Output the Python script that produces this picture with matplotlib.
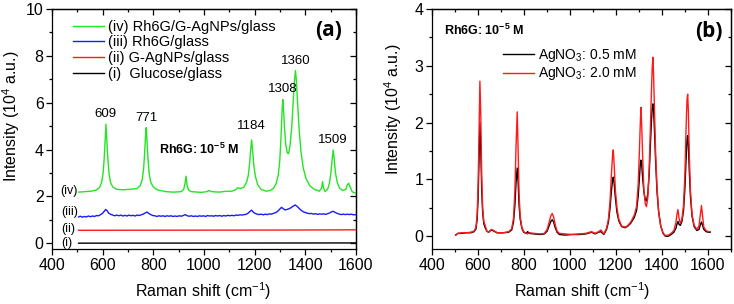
import numpy as np
import matplotlib
matplotlib.use("Agg")
import matplotlib.pyplot as plt
from matplotlib.ticker import MultipleLocator

plt.rcParams["font.family"] = ["Liberation Sans", "DejaVu Sans"]
plt.rcParams["mathtext.fontset"] = "custom"
plt.rcParams["mathtext.rm"] = "Liberation Sans"
plt.rcParams["mathtext.bf"] = "Liberation Sans:bold"

# ---- panel (a): spectra (Raman shift, intensity in 1e4 a.u.)
spec_iv = [(505, 2.18), (530, 2.2), (555, 2.22), (575, 2.27), (588, 2.38), (596, 2.6),
           (602, 3.0), (606, 3.6), (610, 4.4), (613, 5.08), (616, 4.5), (620, 3.7),
           (625, 3.0), (631, 2.6), (640, 2.4), (655, 2.3), (680, 2.28), (710, 2.3),
           (735, 2.33), (748, 2.45), (756, 2.7), (762, 3.2), (766, 3.9), (769, 4.5),
           (772, 4.93), (775, 4.4), (779, 3.6), (784, 2.95), (790, 2.6), (800, 2.4),
           (815, 2.28), (850, 2.2), (880, 2.18), (910, 2.2), (920, 2.3), (925, 2.55),
           (929, 2.86), (933, 2.5), (939, 2.27), (950, 2.2), (990, 2.17), (1010, 2.2),
           (1020, 2.25), (1030, 2.2), (1060, 2.18), (1090, 2.22), (1110, 2.22),
           (1125, 2.28), (1133, 2.37), (1145, 2.33), (1158, 2.4), (1168, 2.6),
           (1175, 2.9), (1180, 3.4), (1184, 3.95), (1188, 4.41), (1192, 3.95),
           (1197, 3.3), (1203, 2.85), (1212, 2.5), (1225, 2.3), (1245, 2.22),
           (1262, 2.25), (1275, 2.35), (1285, 2.55), (1293, 2.9), (1299, 3.5),
           (1304, 4.5), (1308, 5.6), (1311, 6.14), (1314, 5.7), (1318, 4.9),
           (1323, 4.2), (1329, 3.85), (1334, 3.82), (1340, 4.2), (1346, 4.9),
           (1351, 5.8), (1356, 6.8), (1361, 7.37), (1365, 6.9), (1370, 5.9),
           (1376, 4.8), (1383, 3.9), (1392, 3.2), (1403, 2.75), (1418, 2.45),
           (1435, 2.3), (1455, 2.22), (1464, 2.35), (1468, 2.63), (1472, 2.35),
           (1478, 2.2), (1488, 2.3), (1495, 2.55), (1501, 3.0), (1506, 3.6),
           (1510, 3.98), (1514, 3.6), (1519, 3.0), (1526, 2.6), (1535, 2.35),
           (1548, 2.25), (1560, 2.3), (1566, 2.5), (1571, 2.56), (1577, 2.4),
           (1585, 2.2), (1593, 2.15), (1600, 2.15)]

spec_iii = [(505, 1.12), (512, 1.15), (520, 1.11), (528, 1.14), (536, 1.12), (544, 1.16),
            (552, 1.13), (560, 1.16), (568, 1.14), (576, 1.18), (584, 1.17), (592, 1.22),
            (600, 1.28), (606, 1.36), (612, 1.44), (618, 1.38), (624, 1.28), (632, 1.23),
            (640, 1.2), (648, 1.17), (656, 1.2), (664, 1.17), (672, 1.2), (680, 1.16),
            (688, 1.19), (696, 1.16), (704, 1.2), (712, 1.17), (720, 1.19), (728, 1.16),
            (736, 1.2), (744, 1.18), (752, 1.21), (760, 1.24), (768, 1.29), (775, 1.33),
            (782, 1.27), (790, 1.22), (798, 1.18), (806, 1.17), (814, 1.14), (822, 1.17),
            (830, 1.15), (838, 1.17), (846, 1.14), (854, 1.17), (862, 1.15), (870, 1.17),
            (878, 1.14), (886, 1.16), (894, 1.14), (902, 1.17), (910, 1.15), (918, 1.18),
            (926, 1.22), (934, 1.17), (942, 1.15), (950, 1.17), (958, 1.14), (966, 1.16),
            (974, 1.14), (982, 1.17), (990, 1.15), (998, 1.17), (1006, 1.14), (1014, 1.18),
            (1022, 1.16), (1030, 1.17), (1038, 1.15), (1046, 1.18), (1054, 1.16),
            (1062, 1.18), (1070, 1.15), (1078, 1.18), (1086, 1.16), (1094, 1.19),
            (1102, 1.17), (1110, 1.19), (1118, 1.17), (1126, 1.2), (1134, 1.19),
            (1142, 1.21), (1150, 1.2), (1158, 1.22), (1166, 1.23), (1174, 1.28),
            (1181, 1.35), (1188, 1.41), (1195, 1.32), (1202, 1.27), (1210, 1.24),
            (1218, 1.22), (1226, 1.24), (1234, 1.21), (1242, 1.24), (1250, 1.22),
            (1258, 1.25), (1266, 1.24), (1274, 1.27), (1282, 1.3), (1290, 1.35),
            (1298, 1.44), (1306, 1.53), (1313, 1.47), (1320, 1.42), (1328, 1.44),
            (1336, 1.47), (1344, 1.52), (1352, 1.58), (1360, 1.63), (1368, 1.57),
            (1376, 1.48), (1384, 1.4), (1392, 1.34), (1400, 1.31), (1408, 1.28),
            (1416, 1.26), (1424, 1.27), (1432, 1.24), (1440, 1.26), (1448, 1.23),
            (1456, 1.25), (1464, 1.24), (1472, 1.25), (1480, 1.23), (1488, 1.26),
            (1496, 1.29), (1504, 1.34), (1511, 1.36), (1518, 1.31), (1526, 1.27),
            (1534, 1.24), (1542, 1.22), (1550, 1.24), (1558, 1.22), (1566, 1.24),
            (1574, 1.22), (1582, 1.24), (1590, 1.21), (1600, 1.22)]

spec_ii = [(505, 0.55), (1280, 0.56), (1600, 0.57)]
spec_i = [(505, 0.0), (1600, 0.01)]

labels_a = ["(i)  Glucose/glass", "(ii) G-AgNPs/glass", "(iii) Rh6G/glass",
            "(iv) Rh6G/G-AgNPs/glass"]
tags_a = ["(i)", "(ii)", "(iii)", "(iv)"]
tag_x = [458, 466, 471, 466]
tag_y = [0.0, 0.6, 1.33, 2.23]

peak_pos = [613, 772, 1188, 1311, 1361, 1510]
peak_txt = ["609", "771", "1184", "1308", "1360", "1509"]
peak_lab_y = [5.5, 5.35, 5.0, 6.6, 7.78, 4.4]

# ---- panel (b): (shift, AgNO3 0.5 mM, AgNO3 2.0 mM)
spec_b = [(505, .02, .02), (515, .05, .05), (530, .05, .06), (550, .06, .06), (570, .06, .07),
          (585, .08, .09), (593, .13, .16), (598, .3, .38), (602, .65, .85), (606, 1.3, 1.75),
          (610, 2.0, 2.73), (614, 1.5, 2.1), (618, .8, 1.05), (622, .42, .5), (627, .22, .26),
          (633, .15, .19), (640, .09, .09), (648, .07, .07), (660, .11, .12), (670, .09, .1),
          (685, .06, .06), (710, .06, .06), (735, .07, .08), (748, .11, .13), (756, .25, .32),
          (762, .55, .8), (767, .95, 1.6), (772, 1.2, 2.19), (776, .95, 1.5), (780, .55, .75),
          (785, .3, .35), (792, .14, .16), (800, .07, .08), (810, .05, .05), (817, .08, .04),
          (825, .05, .06), (845, .04, .05), (870, .03, .04), (890, .04, .05), (902, .09, .12),
          (912, .2, .27), (918, .26, .36), (924, .29, .4), (930, .25, .34), (937, .15, .2),
          (945, .07, .09), (955, .03, .05), (980, .02, .04), (1010, .03, .03), (1040, .03, .04),
          (1070, .04, .05), (1095, .07, .08), (1110, .04, .05), (1125, .07, .08),
          (1135, .08, .11), (1148, .03, .04), (1160, .12, .14), (1168, .25, .3),
          (1175, .5, .62), (1181, .8, 1.1), (1186, 1.0, 1.42), (1189, 1.04, 1.52),
          (1193, .92, 1.25), (1198, .68, .82), (1205, .42, .5), (1213, .27, .3),
          (1225, .17, .18), (1240, .15, .16), (1250, .17, .18), (1265, .23, .25),
          (1280, .33, .37), (1290, .45, .52), (1297, .7, .9), (1302, 1.0, 1.45),
          (1306, 1.25, 1.95), (1309, 1.34, 2.27), (1312, 1.28, 2.0), (1317, 1.0, 1.35),
          (1322, .78, .8), (1328, .64, .57), (1333, .62, .52), (1339, .75, .68),
          (1345, 1.1, 1.2), (1350, 1.6, 1.9), (1355, 2.05, 2.6), (1358, 2.25, 2.95),
          (1361, 2.33, 3.15), (1364, 2.22, 2.85), (1368, 1.85, 2.2), (1373, 1.3, 1.45),
          (1379, .78, .85), (1386, .42, .44), (1395, .18, .18), (1405, .05, .06),
          (1415, 0.0, .01), (1428, 0.0, .02), (1440, .03, .05), (1452, .07, .1),
          (1461, .14, .24), (1466, .22, .4), (1470, .26, .47), (1474, .21, .33),
          (1480, .19, .22), (1487, .26, .3), (1494, .45, .55), (1500, .85, 1.1),
          (1505, 1.35, 1.9), (1509, 1.7, 2.4), (1512, 1.77, 2.5), (1515, 1.6, 2.2),
          (1519, 1.15, 1.45), (1524, .7, .8), (1531, .35, .38), (1540, .17, .19),
          (1552, .1, .12), (1561, .12, .18), (1567, .2, .38), (1572, .25, .54),
          (1576, .2, .38), (1582, .12, .16), (1592, .08, .1), (1602, .07, .08),
          (1610, .07, .08)]
labels_b = ["AgNO$_3$: 0.5 mM", "AgNO$_3$: 2.0 mM"]


def style_axes(ax, xmax, ymin, ymax, ymaj, ymin_step):
    ax.set_xlim(400, xmax)
    ax.set_ylim(ymin, ymax)
    ax.xaxis.set_major_locator(MultipleLocator(200))
    ax.xaxis.set_minor_locator(MultipleLocator(100))
    ax.yaxis.set_major_locator(MultipleLocator(ymaj))
    ax.yaxis.set_minor_locator(MultipleLocator(ymin_step))
    ax.tick_params(which="both", direction="out", labelsize=11.5, width=0.9, pad=2)
    ax.tick_params(which="major", length=4)
    ax.tick_params(which="minor", length=2.5)
    for s in ax.spines.values():
        s.set_linewidth(0.9)
    top = ax.secondary_xaxis("top")
    top.xaxis.set_major_locator(MultipleLocator(200))
    top.xaxis.set_minor_locator(MultipleLocator(100))
    top.tick_params(which="both", direction="in", labeltop=False, width=0.9)
    top.tick_params(which="major", length=4)
    top.tick_params(which="minor", length=2.5)
    right = ax.secondary_yaxis("right")
    right.yaxis.set_major_locator(MultipleLocator(ymaj))
    right.yaxis.set_minor_locator(MultipleLocator(ymin_step))
    right.tick_params(which="both", direction="in", labelright=False, width=0.9)
    right.tick_params(which="major", length=4)
    right.tick_params(which="minor", length=2.5)
    for sec in (top, right):
        for s in sec.spines.values():
            s.set_linewidth(0.9)
    ax.set_xlabel("Raman shift (cm$^{-1}$)", fontsize=11.5)
    ax.set_ylabel("Intensity (10$^4$ a.u.)", fontsize=11.5)


fig = plt.figure(figsize=(7.34, 3.04), dpi=100)
ax_a = fig.add_axes([0.0708, 0.1793, 0.4142, 0.791])
ax_b = fig.add_axes([0.5879, 0.1793, 0.408, 0.791])

# panel (a)
colors_a = ["black", "#ff1a1a", "#1a1aff", "#22e622"]
series_a = [spec_i, spec_ii, spec_iii, spec_iv]
handles = []
for spec, c, lab in zip(series_a, colors_a, labels_a):
    xs, ys = zip(*spec)
    h, = ax_a.plot(xs, ys, color=c, lw=1.0, label=lab)
    handles.append(h)

for t, tx, ty in zip(tags_a, tag_x, tag_y):
    ax_a.text(tx, ty, t, fontsize=9, ha="center", va="center")
for px, pt, py in zip(peak_pos, peak_txt, peak_lab_y):
    ax_a.text(px, py, pt, fontsize=9.5, ha="center", va="center")

ax_a.text(980, 4.0, r"Rh6G: 10$^{\mathbf{-5}}$ M", fontsize=9, fontweight="bold",
          ha="center", va="center")
ax_a.text(1490, 9.1, "(a)", fontsize=15, fontweight="bold", family="Open Sans",
          ha="center", va="center")
ax_a.legend(handles[::-1], [h.get_label() for h in handles[::-1]], loc="upper left",
            bbox_to_anchor=(0.07, 0.956), frameon=False, fontsize=10.5, borderpad=0,
            borderaxespad=0, handlelength=2.1, handletextpad=0.25, labelspacing=0.12)
style_axes(ax_a, 1600, -0.27, 10, 2, 1)
ax_a.yaxis.set_label_coords(-0.097, 0.552)
ax_a.xaxis.set_label_coords(0.498, -0.13)

# panel (b)
shift_b, int_05mM, int_20mM = zip(*spec_b)
ax_b.plot(shift_b, int_05mM, color="black", lw=1.0, label=labels_b[0])
ax_b.plot(shift_b, int_20mM, color="#ff1a1a", lw=1.0, label=labels_b[1])
ax_b.text(455, 3.62, r"Rh6G: 10$^{\mathbf{-5}}$ M", fontsize=9, fontweight="bold",
          ha="left", va="center")
ax_b.text(1603, 3.61, "(b)", fontsize=15, fontweight="bold", family="Open Sans",
          ha="center", va="center")
ax_b.legend(loc="upper left", bbox_to_anchor=(0.24, 0.842), frameon=False, fontsize=10,
            borderpad=0, borderaxespad=0, handlelength=2.2, handletextpad=0.3,
            labelspacing=0.1)
style_axes(ax_b, 1700, -0.234, 4, 1, 0.5)
ax_b.yaxis.set_label_coords(-0.093, 0.584)
ax_b.xaxis.set_label_coords(0.503, -0.13)

fig.savefig("out.png", dpi=100)
